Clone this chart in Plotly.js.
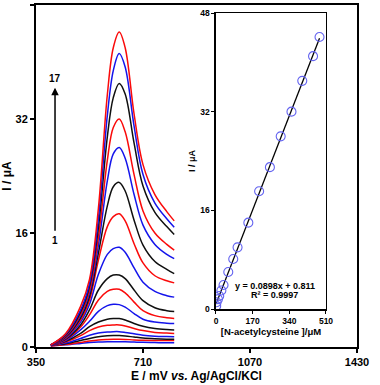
<!DOCTYPE html>
<html>
<head>
<meta charset="utf-8">
<script src="https://cdn.plot.ly/plotly-3.0.1.min.js"></script>
<style>html,body{margin:0;padding:0;background:#fff;}#chart{width:380px;height:385px;}</style>
</head>
<body>
<div id="chart"></div>
<script>
// Potentials (mV) at which the voltammograms were read
var potentials = [400, 450, 500, 530, 560, 590, 610, 630, 650, 680, 710, 750, 790, 815];

// Currents (µA) for the 17 DPV curves, curve 1 (lowest) to 17 (highest)
var curve1  = [0.15, 0.3, 0.5, 0.62, 0.7, 0.74, 0.75, 0.75, 0.73, 0.69, 0.65, 0.62, 0.6, 0.6];
var curve2  = [0.15, 0.35, 0.65, 0.85, 1.0, 1.07, 1.1, 1.1, 1.07, 1.0, 0.95, 0.92, 0.9, 0.9];
var curve3  = [0.2, 0.45, 0.9, 1.2, 1.45, 1.57, 1.6, 1.6, 1.55, 1.4, 1.25, 1.15, 1.1, 1.1];
var curve4  = [0.2, 0.55, 1.2, 1.65, 1.95, 2.1, 2.15, 2.15, 2.05, 1.85, 1.65, 1.52, 1.47, 1.45];
var curve5  = [0.2, 0.7, 1.6, 2.3, 2.8, 3.05, 3.1, 3.1, 2.95, 2.6, 2.3, 2.05, 1.95, 1.9];
var curve6  = [0.25, 0.8, 1.9, 2.85, 3.5, 3.9, 4.0, 4.0, 3.8, 3.3, 2.9, 2.6, 2.45, 2.4];
var curve7  = [0.25, 0.9, 2.4, 3.6, 5.0, 5.8, 6.0, 5.95, 5.6, 4.7, 3.9, 3.5, 3.35, 3.3];
var curve8  = [0.25, 1.0, 2.8, 4.5, 6.6, 7.8, 8.1, 8.1, 7.6, 6.3, 5.1, 4.4, 4.1, 4.0];
var curve9  = [0.25, 1.1, 3.1, 5.2, 8.0, 9.6, 10.1, 10.1, 9.6, 8.0, 6.5, 5.5, 5.1, 5.0];
var curve10 = [0.25, 1.2, 3.5, 6.0, 10.2, 13.0, 13.8, 14.0, 13.3, 11.1, 9.1, 7.8, 7.2, 7.0];
var curve11 = [0.3, 1.3, 3.8, 6.6, 12.2, 16.9, 18.3, 18.7, 17.7, 14.5, 11.8, 10.0, 9.3, 9.0];
var curve12 = [0.3, 1.4, 4.1, 7.1, 13.2, 19.8, 22.5, 23.1, 21.9, 17.8, 14.3, 12.0, 10.9, 10.3];
var curve13 = [0.3, 1.5, 4.4, 7.6, 14.3, 23.3, 27.1, 28.0, 26.5, 21.4, 17.1, 14.4, 13.0, 12.4];
var curve14 = [0.3, 1.6, 4.6, 8.0, 15.4, 26.2, 30.8, 32.0, 30.2, 24.2, 19.1, 16.0, 14.4, 13.6];
var curve15 = [0.3, 1.7, 4.9, 8.5, 16.8, 29.5, 35.0, 37.0, 35.5, 28.6, 22.6, 18.9, 16.9, 15.8];
var curve16 = [0.3, 1.8, 5.2, 8.9, 18.0, 32.5, 38.8, 41.2, 39.3, 31.0, 24.2, 20.2, 18.0, 16.8];
var curve17 = [0.3, 1.9, 5.7, 9.5, 19.5, 35.4, 42.0, 44.2, 42.0, 32.7, 25.6, 21.4, 19.0, 17.7];
var curves = [curve1, curve2, curve3, curve4, curve5, curve6, curve7, curve8, curve9,
              curve10, curve11, curve12, curve13, curve14, curve15, curve16, curve17];

// Inset calibration data
var concentration = [1, 3, 9, 15, 25, 35, 57, 80, 100, 150, 200, 250, 300, 350, 400, 450, 480];
var peakCurrent   = [0.5, 1.1, 1.6, 2.1, 3.0, 3.9, 6.0, 8.1, 10.0, 14.0, 19.1, 23.0, 28.0, 32.0, 37.0, 41.0, 44.1];
var fitSlope = 0.0898;
var fitIntercept = 0.811;
var fitRange = [0, 480];

var mainXTicks = [350, 710, 1070, 1430];
var mainYTicks = [0, 16, 32, 48];
var insetXTicks = [0, 170, 340, 510];
var insetYTicks = [0, 16, 32, 48];

var lineColors = ['rgb(20,20,235)', 'rgb(250,10,10)', 'rgb(15,15,15)'];
var FONT = 'Liberation Sans, Arial, sans-serif';

var traces = [];
for (var i = 0; i < curves.length; i++) {
  traces.push({
    x: potentials, y: curves[i], type: 'scatter', mode: 'lines',
    line: {color: lineColors[i % 3], width: 1.5, shape: 'spline', smoothing: 1},
    xaxis: 'x', yaxis: 'y', hoverinfo: 'skip'
  });
}
traces.push({
  x: fitRange, y: fitRange.map(function (c) { return fitSlope * c + fitIntercept; }),
  type: 'scatter', mode: 'lines', line: {color: 'black', width: 1.3},
  xaxis: 'x2', yaxis: 'y2'
});
traces.push({
  x: concentration, y: peakCurrent, type: 'scatter', mode: 'markers',
  marker: {symbol: 'circle-open', size: 9, color: 'rgb(100,100,240)', line: {width: 1.1}},
  xaxis: 'x2', yaxis: 'y2'
});

var tf = function (s) { return {family: FONT, size: s, color: 'black', weight: 'bold'}; };

var layout = {
  width: 380, height: 385,
  margin: {l: 36, r: 23, t: 5, b: 38},
  paper_bgcolor: 'white', plot_bgcolor: 'white',
  showlegend: false,
  font: {family: FONT, color: 'black'},
  xaxis: {
    range: [350, 1430], tickvals: mainXTicks, ticktext: mainXTicks.map(String),
    ticks: 'outside', ticklen: 4, tickwidth: 1.5, tickcolor: 'black',
    showline: true, linewidth: 2, linecolor: 'black', mirror: true,
    showgrid: false, zeroline: false, tickfont: tf(11),
    title: {text: 'E / mV <i>vs.</i> Ag/AgCl/KCl', font: tf(12), standoff: 4},
    automargin: false
  },
  yaxis: {
    range: [0, 48], tickvals: mainYTicks, ticktext: mainYTicks.map(String),
    ticks: 'outside', ticklen: 4, tickwidth: 1.5, tickcolor: 'black',
    showline: true, linewidth: 2, linecolor: 'black', mirror: true,
    showgrid: false, zeroline: false, tickfont: tf(11),
    title: {text: 'I / μA', font: tf(12), standoff: 4},
    automargin: false
  },
  xaxis2: {
    domain: [0.5607, 0.9034], anchor: 'y2',
    range: [0, 510], tickvals: insetXTicks, ticktext: insetXTicks.map(String),
    ticks: 'outside', ticklen: 3, tickwidth: 1, tickcolor: 'black',
    showline: true, linewidth: 1.5, linecolor: 'black', mirror: true,
    showgrid: false, zeroline: false, tickfont: tf(8.5),
    title: {text: '[N-acetylcysteine ]/μM', font: tf(9.5), standoff: 3},
    automargin: false
  },
  yaxis2: {
    domain: [0.1111, 0.9766], anchor: 'x2',
    range: [0, 48], tickvals: insetYTicks, ticktext: insetYTicks.map(String),
    ticks: 'outside', ticklen: 3, tickwidth: 1, tickcolor: 'black',
    showline: true, linewidth: 1.5, linecolor: 'black', mirror: true,
    showgrid: false, zeroline: false, tickfont: tf(8.5),
    title: {text: 'I / μA', font: tf(9), standoff: 3},
    automargin: false
  },
  annotations: [
    {x: 414, y: 36.4, ax: 414, ay: 16.1, xref: 'x', yref: 'y', axref: 'x', ayref: 'y',
     text: '', showarrow: true, arrowhead: 2, arrowsize: 1, arrowwidth: 1.5, arrowcolor: 'black', standoff: 0},
    {x: 414, y: 36.6, xref: 'x', yref: 'y', text: '17', showarrow: false, yanchor: 'bottom', font: tf(10)},
    {x: 414, y: 16.0, xref: 'x', yref: 'y', text: '1', showarrow: false, yanchor: 'top', font: tf(10)},
    {x: 273, y: 3.78, xref: 'x2', yref: 'y2', text: 'y = 0.0898x + 0.811', showarrow: false, font: tf(9)},
    {x: 273, y: 2.32, xref: 'x2', yref: 'y2', text: 'R² = 0.9997', showarrow: false, font: tf(9)}
  ]
};

Plotly.newPlot('chart', traces, layout, {staticPlot: true, displayModeBar: false});
</script>
</body>
</html>
